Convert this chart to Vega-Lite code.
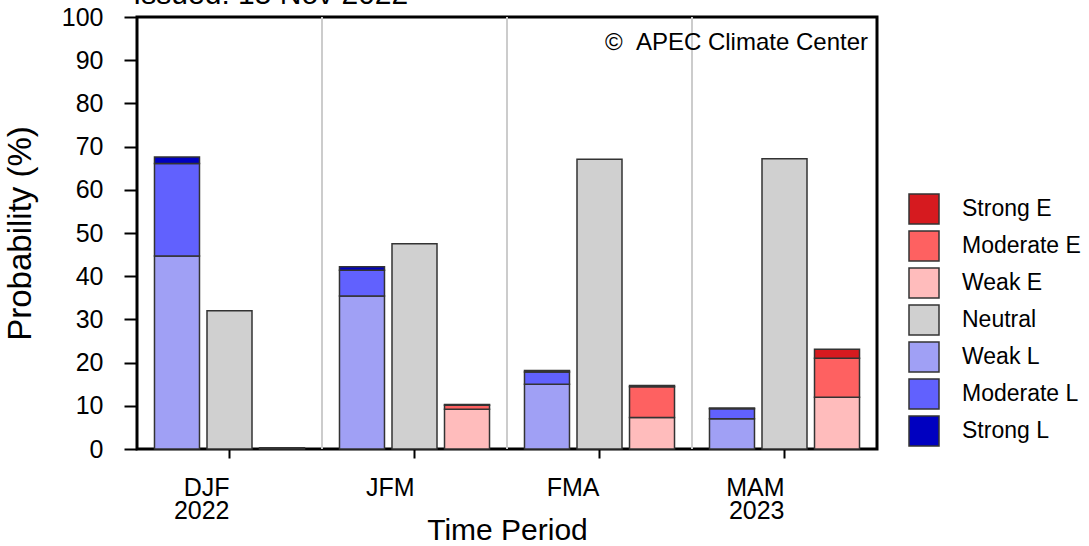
{
  "$schema": "https://vega.github.io/schema/vega-lite/v6.json",
  "autosize": {"type": "none"},
  "width": 740,
  "height": 432,
  "padding": {"left": 137, "top": 17, "right": 212, "bottom": 97},
  "background": "white",
  "config": {
    "font": "Liberation Sans",
    "view": {"stroke": "black", "strokeWidth": 3},
    "axis": {"labelColor": "black", "titleColor": "black", "tickColor": "black", "grid": false, "domain": false}
  },
  "datasets": {
    "bars": [
      {"period": "DJF", "group": "La Nina", "cat": "Weak L", "ord": 1, "value": 44.7},
      {"period": "DJF", "group": "La Nina", "cat": "Moderate L", "ord": 2, "value": 21.4},
      {"period": "DJF", "group": "La Nina", "cat": "Strong L", "ord": 3, "value": 1.5},
      {"period": "DJF", "group": "Neutral", "cat": "Neutral", "ord": 1, "value": 32.0},
      {"period": "DJF", "group": "El Nino", "cat": "Weak E", "ord": 1, "value": 0.3},
      {"period": "JFM", "group": "La Nina", "cat": "Weak L", "ord": 1, "value": 35.4},
      {"period": "JFM", "group": "La Nina", "cat": "Moderate L", "ord": 2, "value": 6.0},
      {"period": "JFM", "group": "La Nina", "cat": "Strong L", "ord": 3, "value": 0.8},
      {"period": "JFM", "group": "Neutral", "cat": "Neutral", "ord": 1, "value": 47.5},
      {"period": "JFM", "group": "El Nino", "cat": "Weak E", "ord": 1, "value": 9.2},
      {"period": "JFM", "group": "El Nino", "cat": "Moderate E", "ord": 2, "value": 0.9},
      {"period": "JFM", "group": "El Nino", "cat": "Strong E", "ord": 3, "value": 0.2},
      {"period": "FMA", "group": "La Nina", "cat": "Weak L", "ord": 1, "value": 15.0},
      {"period": "FMA", "group": "La Nina", "cat": "Moderate L", "ord": 2, "value": 2.8},
      {"period": "FMA", "group": "La Nina", "cat": "Strong L", "ord": 3, "value": 0.4},
      {"period": "FMA", "group": "Neutral", "cat": "Neutral", "ord": 1, "value": 67.1},
      {"period": "FMA", "group": "El Nino", "cat": "Weak E", "ord": 1, "value": 7.3},
      {"period": "FMA", "group": "El Nino", "cat": "Moderate E", "ord": 2, "value": 7.1},
      {"period": "FMA", "group": "El Nino", "cat": "Strong E", "ord": 3, "value": 0.3},
      {"period": "MAM", "group": "La Nina", "cat": "Weak L", "ord": 1, "value": 7.0},
      {"period": "MAM", "group": "La Nina", "cat": "Moderate L", "ord": 2, "value": 2.3},
      {"period": "MAM", "group": "La Nina", "cat": "Strong L", "ord": 3, "value": 0.2},
      {"period": "MAM", "group": "Neutral", "cat": "Neutral", "ord": 1, "value": 67.2},
      {"period": "MAM", "group": "El Nino", "cat": "Weak E", "ord": 1, "value": 12.0},
      {"period": "MAM", "group": "El Nino", "cat": "Moderate E", "ord": 2, "value": 9.0},
      {"period": "MAM", "group": "El Nino", "cat": "Strong E", "ord": 3, "value": 2.1}
    ],
    "seps": [{"period": "JFM"}, {"period": "FMA"}, {"period": "MAM"}],
    "note": [{"t": "© \u00a0APEC Climate Center"}],
    "issued": [{"t": "Issued: 15 Nov 2022"}]
  },
  "layer": [
    {
      "data": {"name": "seps"},
      "mark": {"type": "rule", "color": "#cccccc", "strokeWidth": 2},
      "encoding": {
        "x": {"field": "period", "type": "nominal", "bandPosition": 0,
              "scale": {"domain": ["DJF", "JFM", "FMA", "MAM"], "paddingInner": 0, "paddingOuter": 0}}
      }
    },
    {
      "data": {"name": "bars"},
      "mark": {"type": "bar", "stroke": "#333333", "strokeWidth": 1.5},
      "encoding": {
        "x": {"field": "period", "type": "nominal",
              "scale": {"domain": ["DJF", "JFM", "FMA", "MAM"], "paddingInner": 0, "paddingOuter": 0},
              "axis": {"title": "Time Period", "titleFontSize": 30, "titleFontWeight": "normal", "titlePadding": -8,
                       "labelAngle": 0, "labelFontSize": 25, "labelPadding": 29, "labelLineHeight": 23,
                       "tickSize": 9, "tickWidth": 2,
                       "labelExpr": "datum.value == 'DJF' ? ['DJF', '2022'] : datum.value == 'MAM' ? ['MAM', '2023'] : datum.value"}},
        "xOffset": {"field": "group", "type": "nominal",
                    "scale": {"domain": ["La Nina", "Neutral", "El Nino"], "paddingInner": 0.143, "paddingOuter": 0.333}},
        "y": {"field": "value", "type": "quantitative", "stack": "zero",
              "scale": {"domain": [0, 100], "nice": false},
              "axis": {"title": "Probability (%)", "titleFontSize": 33, "titleFontWeight": "normal", "titlePadding": 24,
                       "values": [0, 10, 20, 30, 40, 50, 60, 70, 80, 90, 100],
                       "labelFontSize": 25, "labelPadding": 21, "tickSize": 13, "tickWidth": 2}},
        "color": {"field": "cat", "type": "nominal",
                  "scale": {"domain": ["Strong E", "Moderate E", "Weak E", "Neutral", "Weak L", "Moderate L", "Strong L"],
                            "range": ["#d61a1f", "#fe6161", "#ffbcbc", "#d0d0d0", "#a0a0f5", "#6161fe", "#0000c0"]},
                  "legend": {"title": null, "orient": "none", "legendX": 771, "legendY": 176,
                             "symbolType": "square", "symbolSize": 900, "symbolStrokeColor": "#333333", "symbolStrokeWidth": 1.5,
                             "symbolOpacity": 1, "labelFontSize": 23, "labelColor": "black", "labelOffset": 22, "rowPadding": 1}},
        "order": {"field": "ord", "type": "quantitative"}
      }
    },
    {
      "data": {"name": "note"},
      "mark": {"type": "text", "align": "right", "baseline": "middle", "fontSize": 24, "color": "black", "dx": -9},
      "encoding": {
        "x": {"datum": "MAM", "bandPosition": 1},
        "y": {"datum": 94},
        "text": {"field": "t"}
      }
    },
    {
      "data": {"name": "issued"},
      "mark": {"type": "text", "align": "left", "baseline": "alphabetic", "fontSize": 30, "color": "black", "dx": -4, "dy": -13},
      "encoding": {
        "x": {"datum": "DJF", "bandPosition": 0},
        "y": {"datum": 100},
        "text": {"field": "t"}
      }
    }
  ]
}
